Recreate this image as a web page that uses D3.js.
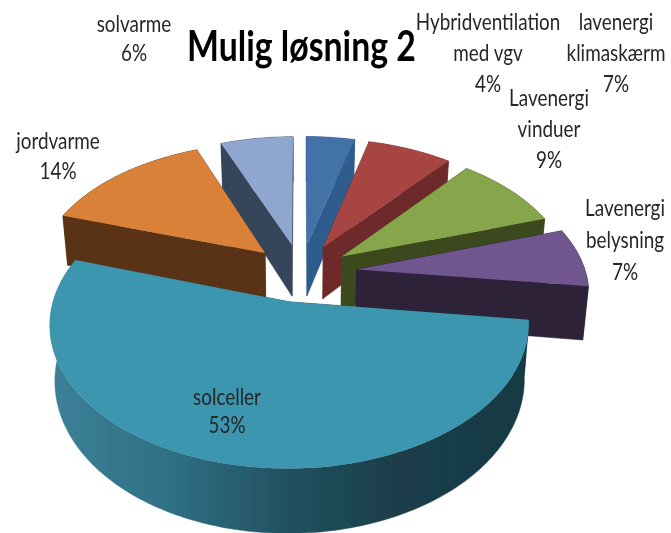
<!DOCTYPE html>
<html><head><meta charset="utf-8">
<script src="https://cdn.jsdelivr.net/npm/d3@7/dist/d3.min.js"></script>
<style>html,body{margin:0;padding:0;background:#fff}svg{display:block}</style>
</head><body><svg id="c" width="671" height="533"></svg>
<script>
const title = "Mulig løsning 2";
const categories = [["Hybridventilation","med vgv"],["lavenergi","klimaskærm"],["Lavenergi","vinduer"],["Lavenergi","belysning"],["solceller"],["jordvarme"],["solvarme"]];
const values = [4,7,9,7,53,14,6];
const topColors = ["#4272a8","#a64543","#87a64b","#70548f","#3e96af","#d98137","#8fa6cf"];
const wallColors = ["#2f5c8c","#6e2c2b","#3b4a1e","#2d2139","url(#tealWall)","#5a3213","#36445a"];
const explodes = [0.22,0.22,0.22,0.245,0.22,0.22,0.22];
const paintOrder = [0,6,1,5,2,3,4];
const labelX = [488,616,549,625,227,58,134];
const labelY = [22,22,98,208,397,141,24];
const lineGap = [31,31,31,32,28,30,29];

const svg = d3.select("#c");
const defs = svg.append("defs");
defs.append("filter").attr("id","soft").append("feGaussianBlur").attr("stdDeviation",0.45);
const grad = defs.append("linearGradient").attr("id","tealWall").attr("gradientUnits","userSpaceOnUse")
  .attr("x1",50).attr("x2",530).attr("y1",0).attr("y2",0);
[[0,"#3d8198"],[.25,"#2f7084"],[.5,"#225060"],[.72,"#1a3e49"],[1,"#183a44"]].forEach(([o,c])=>grad.append("stop").attr("offset",o).attr("stop-color",c));

// perspective ground-plane projection
const cx=301, cy=272.5, A=229, B=132, b=0.15, wallH=53, shrink=0.98;
const project=(X,Y,bottom)=>{
  const w=1/(1-b*Y);
  const sx=A*X*w, sy=B*Y*w;
  return bottom ? [cx+sx*shrink, cy+sy+wallH*w] : [cx+sx, cy+sy];
};
const line=d3.line();
const pie=d3.pie().sort(null).value(d=>d)(values);
const root=svg.append("g").attr("filter","url(#soft)");

paintOrder.forEach(i=>{
  const a=pie[i], mid=(a.startAngle+a.endAngle)/2;
  const ox=explodes[i]*Math.sin(mid), oy=-explodes[i]*Math.cos(mid);
  const n=Math.max(8,Math.round((a.endAngle-a.startAngle)/0.02));
  const rim=d3.range(n+1).map(k=>{
    const t=a.startAngle+(a.endAngle-a.startAngle)*k/n;
    return [ox+Math.sin(t), oy-Math.cos(t)];
  });
  const P=(p,bt)=>project(p[0],p[1],bt);
  const apex=[ox,oy];
  const g=root.append("g");
  const wall=wallColors[i];
  [rim[0],rim[n]].forEach(e=>{
    g.append("path").attr("fill",wall).attr("stroke",wall).attr("stroke-width",.5)
      .attr("d",line([P(apex),P(e),P(e,true),P(apex,true)])+"Z");
  });
  g.append("path").attr("fill",wall).attr("stroke",wall).attr("stroke-width",.5)
    .attr("d",line(rim.map(p=>P(p)).concat(rim.slice().reverse().map(p=>P(p,true))))+"Z");
  g.append("path").attr("fill",topColors[i])
    .attr("d",line([P(apex)].concat(rim.map(p=>P(p))))+"Z");
});

const labels=svg.append("g").attr("filter","url(#soft)").attr("font-family","Lato, 'Open Sans', sans-serif").attr("fill","#262626").attr("text-anchor","middle");
const sy=1.25;
categories.forEach((c,i)=>{
  const t=labels.append("g").attr("transform",`translate(${labelX[i]},${labelY[i]}) scale(1.05,${sy})`);
  c.concat([values[i]+"%"]).forEach((s,k)=>{
    t.append("text").attr("y",k*lineGap[i]/sy).attr("dy","0.35em").attr("font-size",18).text(s);
  });
});
svg.append("text").attr("filter","url(#soft)").attr("transform","translate(301.5,47) scale(0.94,1.15)").attr("text-anchor","middle").attr("dy","0.35em")
  .attr("font-family","Lato, sans-serif").attr("font-weight",700).attr("font-size",36).attr("fill","#000").text(title);
</script></body></html>
